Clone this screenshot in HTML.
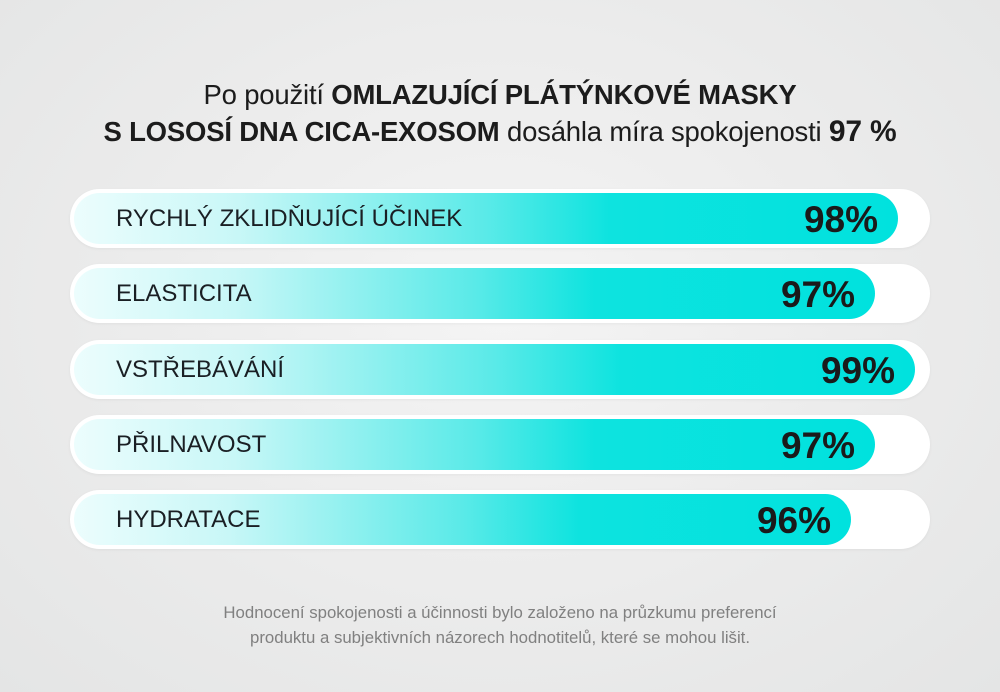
<!DOCTYPE html>
<html><head><meta charset="utf-8"><style>
body{margin:0;width:1000px;height:692px;overflow:hidden;font-family:"Liberation Sans",sans-serif;
background:radial-gradient(ellipse at 50% 45%,#f4f4f4 0%,#ececec 50%,#e4e5e5 100%);position:relative}
.t{position:absolute;left:0;width:1000px;text-align:center;color:#1c1c1c;font-size:27.5px;letter-spacing:-0.2px}
.t b{font-weight:600}
.track{position:absolute;left:70px;width:860px;height:59px;border-radius:30px;background:#fff;box-shadow:0 1px 3px rgba(0,0,0,0.05)}
.fill{position:absolute;left:4px;top:4px;height:51px;border-radius:26px;
background:linear-gradient(90deg,#ecfdfd 0%,#c8f7f7 20%,#5aeae8 50%,#0ee3df 65%,#00e2de 100%)}
.lab{position:absolute;left:46px;top:16px;font-size:24px;color:#1a1f24;letter-spacing:0}
.pct{position:absolute;right:20px;top:6px;font-size:37px;font-weight:600;color:#1a1a1a}
.f{position:absolute;left:0;width:1000px;text-align:center;color:#808080;font-size:16.8px;line-height:25px;top:600px}
</style></head><body>
<div class="t" style="top:79px">Po použití <b>OMLAZUJÍCÍ PLÁTÝNKOVÉ MASKY</b></div>
<div class="t" style="top:115px"><b>S LOSOSÍ DNA CICA-EXOSOM</b> dosáhla míra spokojenosti <b style="font-size:30px">97 %</b></div>

<div class="track" style="top:189px"><div class="fill" style="width:824px"><div class="pct">98%</div></div><div class="lab">RYCHLÝ ZKLIDŇUJÍCÍ ÚČINEK</div></div>
<div class="track" style="top:264px"><div class="fill" style="width:801px"><div class="pct">97%</div></div><div class="lab">ELASTICITA</div></div>
<div class="track" style="top:340px"><div class="fill" style="width:841px"><div class="pct">99%</div></div><div class="lab">VSTŘEBÁVÁNÍ</div></div>
<div class="track" style="top:415px"><div class="fill" style="width:801px"><div class="pct">97%</div></div><div class="lab">PŘILNAVOST</div></div>
<div class="track" style="top:490px"><div class="fill" style="width:777px"><div class="pct">96%</div></div><div class="lab">HYDRATACE</div></div>

<div class="f">Hodnocení spokojenosti a účinnosti bylo založeno na průzkumu preferencí<br>produktu a subjektivních názorech hodnotitelů, které se mohou lišit.</div>
</body></html>
